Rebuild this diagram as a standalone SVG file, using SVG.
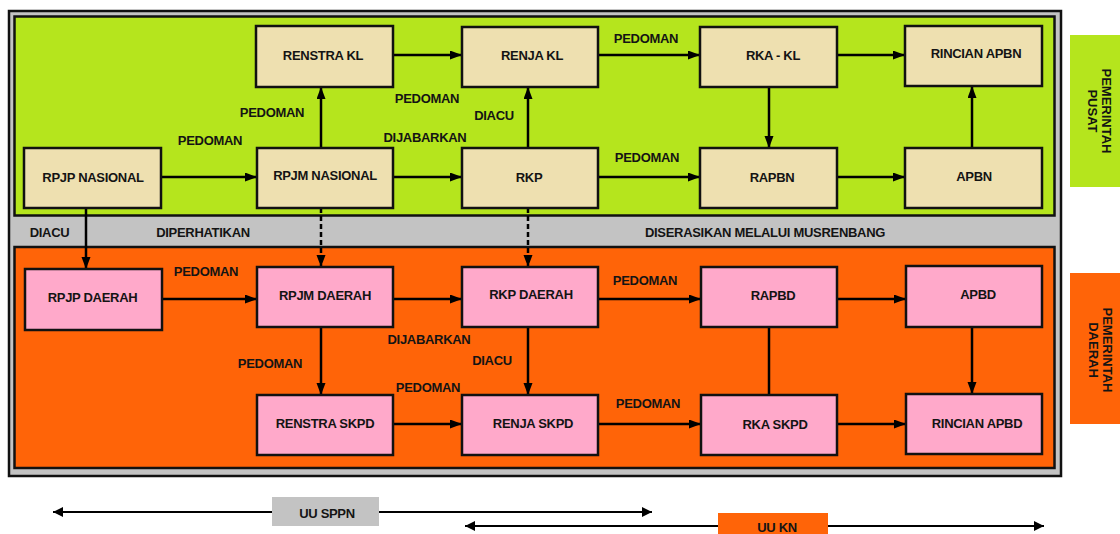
<svg xmlns="http://www.w3.org/2000/svg" width="1120" height="534" viewBox="0 0 1120 534">
<style>
.t{font-family:"Liberation Sans",Arial,sans-serif;font-weight:bold;font-size:13px;fill:#141414;text-anchor:middle;dominant-baseline:central;letter-spacing:-0.3px}
.g{fill:#eee0b0;stroke:#111;stroke-width:2.5}
.p{fill:#ffa9ca;stroke:#111;stroke-width:2.5}
.c{stroke:#000;stroke-width:2.5;fill:none}
.a{marker-end:url(#ah)}
.d{stroke-dasharray:5 3}
.b{stroke:#000;stroke-width:2.2;fill:none;marker-start:url(#as);marker-end:url(#ae)}
</style>
<defs>
<marker id="ah" markerUnits="userSpaceOnUse" markerWidth="13" markerHeight="10" refX="12" refY="4.5" orient="auto"><path d="M0,0 L12,4.5 L0,9 z" fill="#000"/></marker>
<marker id="ae" markerUnits="userSpaceOnUse" markerWidth="11" markerHeight="11" refX="10" refY="5" orient="auto"><path d="M0,0 L10,5 L0,10 z" fill="#000"/></marker>
<marker id="as" markerUnits="userSpaceOnUse" markerWidth="11" markerHeight="11" refX="0" refY="5" orient="auto"><path d="M10,0 L0,5 L10,10 z" fill="#000"/></marker>
</defs>
<rect width="1120" height="534" fill="#fff"/>
<g id="frame">
<rect x="9" y="11" width="1052" height="465" fill="#c3c3c3" stroke="#111" stroke-width="2.5"/>
<rect x="14.5" y="16.5" width="1040" height="199" fill="#b5e51d" stroke="#111" stroke-width="2.5"/>
<rect x="14.5" y="247" width="1040" height="221" fill="#ff6408" stroke="#111" stroke-width="2.5"/>
</g>
<g id="side-pusat">
<rect x="1070" y="35" width="52" height="152" fill="#b5e51d"/>
<text class="t" style="letter-spacing:0" transform="translate(1106,111) rotate(90)">PEMERINTAH</text>
<text class="t" style="letter-spacing:0" transform="translate(1092,111) rotate(90)">PUSAT</text>
</g>
<g id="side-daerah">
<rect x="1070" y="273" width="52" height="151" fill="#ff6408"/>
<text class="t" style="letter-spacing:0" transform="translate(1107,350) rotate(90)">PEMERINTAH</text>
<text class="t" style="letter-spacing:0" transform="translate(1093,350) rotate(90)">DAERAH</text>
</g>
<g id="connectors">
<path class="c a" d="M161,177 H257"/>
<path class="c a" d="M321,148 V87"/>
<path class="c a" d="M393,55 H462"/>
<path class="c a" d="M393,177 H462"/>
<path class="c a" d="M528,148 V87"/>
<path class="c a" d="M598,55 H700"/>
<path class="c a" d="M598,177 H700"/>
<path class="c a" d="M769,87 V148"/>
<path class="c a" d="M837,55 H905"/>
<path class="c a" d="M837,177 H905"/>
<path class="c a" d="M972,148 V86"/>
<path class="c a" d="M86,208 V269"/>
<path class="c a d" d="M321,208 V267"/>
<path class="c a d" d="M528,208 V267"/>
<path class="c a" d="M162,299 H257"/>
<path class="c a" d="M321,327 V395"/>
<path class="c a" d="M393,299 H462"/>
<path class="c a" d="M528,327 V395"/>
<path class="c a" d="M393,424 H462"/>
<path class="c a" d="M598,299 H701"/>
<path class="c a" d="M598,424 H701"/>
<path class="c" d="M769,327 V395"/>
<path class="c a" d="M837,299 H906"/>
<path class="c a" d="M972,327 V394"/>
<path class="c a" d="M837,424 H906"/>
<path class="b" d="M53,512 H652"/>
<path class="b" d="M465,526 H1044"/>
</g>
<g id="labels">
<text class="t" x="210" y="140">PEDOMAN</text>
<text class="t" x="272" y="112">PEDOMAN</text>
<text class="t" x="427" y="98">PEDOMAN</text>
<text class="t" x="425" y="137">DIJABARKAN</text>
<text class="t" x="494" y="115">DIACU</text>
<text class="t" x="646" y="38">PEDOMAN</text>
<text class="t" x="647" y="157">PEDOMAN</text>
<text class="t" x="49.5" y="232.5">DIACU</text>
<text class="t" x="203" y="232.5">DIPERHATIKAN</text>
<text class="t" x="765" y="232.5">DISERASIKAN MELALUI MUSRENBANG</text>
<text class="t" x="206" y="271">PEDOMAN</text>
<text class="t" x="270" y="363">PEDOMAN</text>
<text class="t" x="429" y="339">DIJABARKAN</text>
<text class="t" x="492" y="360">DIACU</text>
<text class="t" x="428" y="387">PEDOMAN</text>
<text class="t" x="645" y="280">PEDOMAN</text>
<text class="t" x="648" y="403">PEDOMAN</text>
</g>
<g id="n-renstra-kl"><rect class="g" x="256" y="26" width="137" height="61"/><text class="t" x="323" y="55">RENSTRA KL</text></g>
<g id="n-renja-kl"><rect class="g" x="462" y="27" width="136" height="60"/><text class="t" x="532" y="55">RENJA KL</text></g>
<g id="n-rka-kl"><rect class="g" x="700" y="27" width="137" height="60"/><text class="t" x="773" y="55">RKA - KL</text></g>
<g id="n-rincian-apbn"><rect class="g" x="905" y="26" width="137" height="60"/><text class="t" x="976" y="53">RINCIAN APBN</text></g>
<g id="n-rpjp-nasional"><rect class="g" x="24" y="148" width="137" height="60"/><text class="t" x="93" y="177">RPJP NASIONAL</text></g>
<g id="n-rpjm-nasional"><rect class="g" x="257" y="148" width="136" height="60"/><text class="t" x="325" y="175">RPJM NASIONAL</text></g>
<g id="n-rkp"><rect class="g" x="462" y="148" width="136" height="60"/><text class="t" x="529" y="177">RKP</text></g>
<g id="n-rapbn"><rect class="g" x="700" y="148" width="137" height="60"/><text class="t" x="772" y="177">RAPBN</text></g>
<g id="n-apbn"><rect class="g" x="905" y="148" width="137" height="60"/><text class="t" x="974" y="176">APBN</text></g>
<g id="n-rpjp-daerah"><rect class="p" x="25" y="269" width="137" height="61"/><text class="t" x="92.5" y="297">RPJP DAERAH</text></g>
<g id="n-rpjm-daerah"><rect class="p" x="257" y="267" width="136" height="60"/><text class="t" x="325" y="295">RPJM DAERAH</text></g>
<g id="n-rkp-daerah"><rect class="p" x="462" y="267" width="136" height="60"/><text class="t" x="531" y="294">RKP DAERAH</text></g>
<g id="n-rapbd"><rect class="p" x="701" y="267" width="136" height="60"/><text class="t" x="773" y="295">RAPBD</text></g>
<g id="n-apbd"><rect class="p" x="906" y="266" width="136" height="61"/><text class="t" x="978" y="294">APBD</text></g>
<g id="n-renstra-skpd"><rect class="p" x="257" y="395" width="136" height="60"/><text class="t" x="325" y="423">RENSTRA SKPD</text></g>
<g id="n-renja-skpd"><rect class="p" x="462" y="395" width="136" height="60"/><text class="t" x="533" y="423">RENJA SKPD</text></g>
<g id="n-rka-skpd"><rect class="p" x="701" y="395" width="136" height="60"/><text class="t" x="775" y="424">RKA SKPD</text></g>
<g id="n-rincian-apbd"><rect class="p" x="906" y="394" width="136" height="60"/><text class="t" x="977" y="423">RINCIAN APBD</text></g>
<g id="uu-sppn"><rect x="272" y="497" width="107" height="29" fill="#c3c3c3"/><text class="t" x="327" y="513">UU SPPN</text></g>
<g id="uu-kn"><rect x="718" y="513" width="110" height="24" fill="#ff6408"/><text class="t" x="777" y="527">UU KN</text></g>
</svg>
